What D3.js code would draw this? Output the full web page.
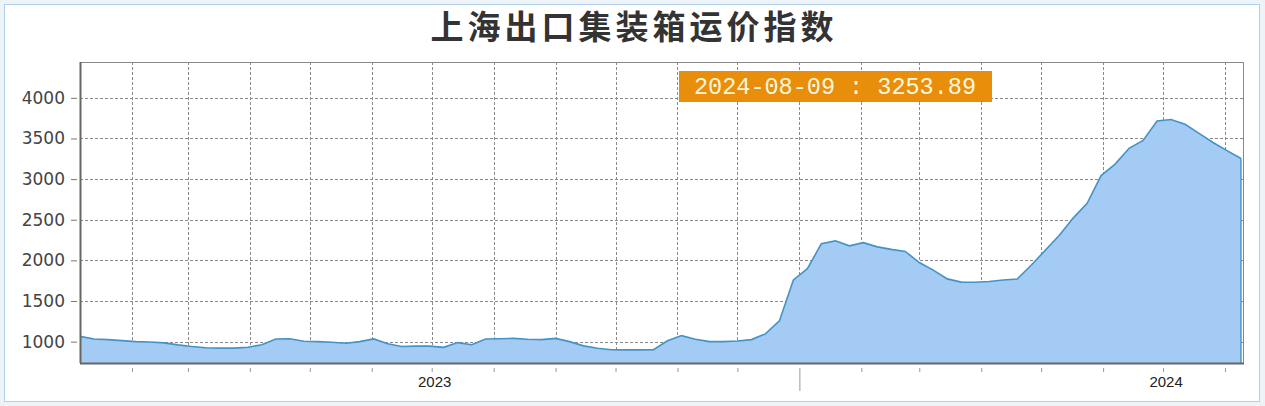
<!DOCTYPE html>
<html lang="zh">
<head>
<meta charset="UTF-8">
<title>上海出口集装箱运价指数</title>
<script src="https://d3js.org/d3.v7.min.js"></script>
<style>
    body { margin: 0; background: #eef3f8; }
    svg { display: block; }
</style>
</head>
<body>
<div id="chart"></div>
<script>
"use strict";

// weekly SCFI readings (Fridays)
let dates = [
    '2023-01-06','2023-01-13','2023-01-20','2023-01-27','2023-02-03','2023-02-10','2023-02-17','2023-02-24',
    '2023-03-03','2023-03-10','2023-03-17','2023-03-24','2023-03-31','2023-04-07','2023-04-14','2023-04-21',
    '2023-04-28','2023-05-05','2023-05-12','2023-05-19','2023-05-26','2023-06-02','2023-06-09','2023-06-16',
    '2023-06-23','2023-06-30','2023-07-07','2023-07-14','2023-07-21','2023-07-28','2023-08-04','2023-08-11',
    '2023-08-18','2023-08-25','2023-09-01','2023-09-08','2023-09-15','2023-09-22','2023-09-29','2023-10-06',
    '2023-10-13','2023-10-20','2023-10-27','2023-11-03','2023-11-10','2023-11-17','2023-11-24','2023-12-01',
    '2023-12-08','2023-12-15','2023-12-22','2023-12-29','2024-01-05','2024-01-12','2024-01-19','2024-01-26',
    '2024-02-02','2024-02-09','2024-02-16','2024-02-23','2024-03-01','2024-03-08','2024-03-15','2024-03-22',
    '2024-03-29','2024-04-05','2024-04-12','2024-04-19','2024-04-26','2024-05-10','2024-05-17','2024-05-24',
    '2024-05-31','2024-06-07','2024-06-14','2024-06-21','2024-06-28','2024-07-05','2024-07-12','2024-07-19',
    '2024-07-26','2024-08-02','2024-08-09'
];
let values = [
    1065, 1032, 1025, 1012, 1000, 995, 985, 960,
    940, 925, 920, 920, 930, 962, 1033, 1035,
    1005, 1000, 992, 980, 1000, 1033, 975, 940,
    945, 945, 930, 988, 962, 1033, 1035, 1040,
    1030, 1025, 1040, 1000, 948, 918, 900, 898,
    898, 900, 1010, 1074, 1030, 1000, 1000, 1008,
    1025, 1095, 1255, 1760, 1897, 2206, 2240, 2179,
    2218, 2166, 2135, 2110, 1973, 1880, 1772, 1732,
    1731, 1740, 1759, 1770, 1940, 2306, 2520, 2703,
    3044, 3184, 3379, 3475, 3714, 3734, 3674, 3562,
    3451, 3350, 3253.89
];
let yTicks = [1000, 1500, 2000, 2500, 3000, 3500, 4000];
let title = '上海出口集装箱运价指数';

let svgWidth = 1265, svgHeight = 406;
let plot = {left: 80, top: 62, right: 1243, bottom: 363};

let parse = d3.timeParse('%Y-%m-%d');
let data = dates.map((d, i) => ({date: parse(d), value: values[i]}));

let x = d3.scaleTime()
    .domain([parse('2023-01-06'), parse('2024-08-10')])
    .range([plot.left, plot.right]);
let y = d3.scaleLinear()
    .domain([737, 4441])
    .range([plot.bottom, plot.top]);

let svg = d3.select('#chart').append('svg')
    .attr('width', svgWidth)
    .attr('height', svgHeight);

// outer panel
svg.append('rect')
    .attr('x', 4.5).attr('y', 4.5)
    .attr('width', 1255).attr('height', 397)
    .attr('fill', '#fff')
    .attr('stroke', '#b3d1ee');

svg.append('text')
    .attr('x', 634).attr('y', 39)
    .attr('text-anchor', 'middle')
    .style('font-family', '"Noto Sans CJK SC", sans-serif')
    .style('font-weight', 700)
    .style('font-size', '33px')
    .style('letter-spacing', '4px')
    .attr('fill', '#333')
    .text(title);

let months = x.ticks(d3.timeMonth.every(1));

// grid
let grid = svg.append('g')
    .attr('stroke', '#8a8a8a')
    .attr('stroke-width', 1)
    .attr('stroke-dasharray', '3,2');
grid.selectAll('.vg').data(months).enter().append('line')
    .attr('x1', d => Math.round(x(d)) + 0.5).attr('x2', d => Math.round(x(d)) + 0.5)
    .attr('y1', plot.top).attr('y2', plot.bottom);
grid.selectAll('.hg').data(yTicks).enter().append('line')
    .attr('x1', plot.left).attr('x2', plot.right)
    .attr('y1', d => Math.round(y(d)) + 0.5).attr('y2', d => Math.round(y(d)) + 0.5);

// area + line
let area = d3.area()
    .x(d => x(d.date))
    .y0(plot.bottom)
    .y1(d => y(d.value));
let line = d3.line()
    .x(d => x(d.date))
    .y(d => y(d.value));

svg.append('path')
    .datum(data)
    .attr('d', area)
    .attr('fill', '#a4cbf4');
svg.append('path')
    .datum(data)
    .attr('d', line)
    .attr('fill', 'none')
    .attr('stroke', '#4592c6')
    .attr('stroke-width', 1.6);
let last = data[data.length - 1];
svg.append('line')
    .attr('x1', x(last.date)).attr('x2', x(last.date))
    .attr('y1', y(last.value)).attr('y2', plot.bottom)
    .attr('stroke', '#4592c6').attr('stroke-width', 1.4);

// frame
svg.append('rect')
    .attr('x', plot.left + 0.5).attr('y', plot.top + 0.5)
    .attr('width', plot.right - plot.left).attr('height', plot.bottom - plot.top)
    .attr('fill', 'none')
    .attr('stroke', '#888');
svg.append('line')
    .attr('x1', plot.left).attr('x2', plot.right + 1)
    .attr('y1', plot.bottom + 0.5).attr('y2', plot.bottom + 0.5)
    .attr('stroke', '#666').attr('stroke-width', 2);
svg.append('line')
    .attr('x1', plot.left + 0.5).attr('x2', plot.left + 0.5)
    .attr('y1', plot.top).attr('y2', plot.bottom)
    .attr('stroke', '#666').attr('stroke-width', 2);

// y axis
let yAxis = d3.axisLeft(y)
    .tickValues(yTicks)
    .tickSize(6)
    .tickPadding(6)
    .tickFormat(d3.format('d'));
let yg = svg.append('g')
    .attr('transform', 'translate(' + (plot.left - 3) + ',0)')
    .call(yAxis);
yg.select('.domain').remove();
yg.selectAll('.tick line').attr('stroke', '#777');
yg.selectAll('.tick text')
    .attr('fill', '#444')
    .style('font-family', '"DejaVu Sans", sans-serif')
    .style('font-size', '17px');

// x axis
let xAxis = d3.axisBottom(x)
    .tickValues(months)
    .tickSize(4)
    .tickFormat('');
let xg = svg.append('g')
    .attr('transform', 'translate(0,' + (plot.bottom + 5) + ')')
    .call(xAxis);
xg.select('.domain').remove();
xg.selectAll('.tick line')
    .attr('stroke', '#999')
    .attr('y2', d => d.getMonth() === 0 ? 23 : 4);

svg.selectAll('.year').data(months.filter(d => d.getMonth() === 6))
    .enter().append('text')
    .attr('x', d => x(d) + 3)
    .attr('y', 387)
    .attr('text-anchor', 'middle')
    .attr('fill', '#222')
    .style('font-family', '"Liberation Sans", Arial, sans-serif')
    .style('font-size', '15px')
    .text(d3.timeFormat('%Y'));

// latest value badge
svg.append('rect')
    .attr('x', 679).attr('y', 71)
    .attr('width', 313).attr('height', 31)
    .attr('fill', '#e98e0b');
svg.append('text')
    .attr('x', 835).attr('y', 94)
    .attr('text-anchor', 'middle')
    .attr('fill', '#fff6de')
    .style('font-family', '"Liberation Mono", monospace')
    .style('font-size', '23.5px')
    .text(dates[dates.length - 1] + ' : ' + d3.format('.2f')(last.value));
</script>
</body>
</html>
